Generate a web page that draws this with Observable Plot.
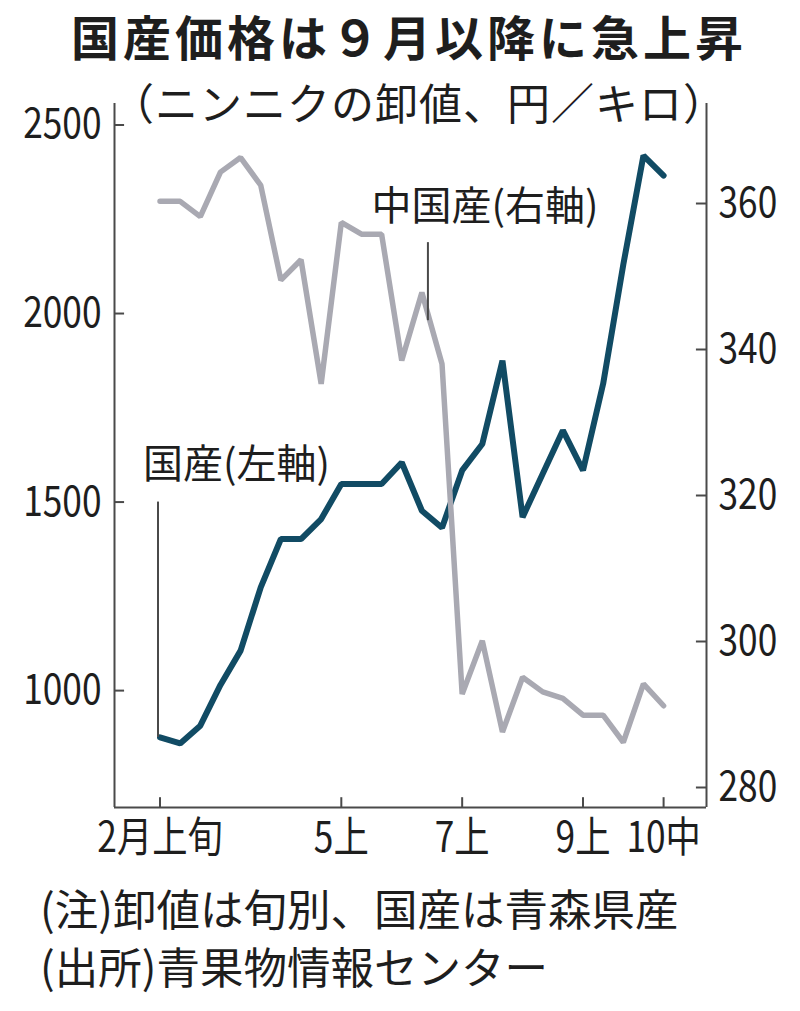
<!DOCTYPE html>
<html><head><meta charset="utf-8">
<script src="https://cdn.jsdelivr.net/npm/d3@7"></script>
<script src="https://cdn.jsdelivr.net/npm/@observablehq/plot@0.6"></script>
<style>
body{margin:0;background:#fff;}
#wrap{position:relative;width:800px;height:1011px;overflow:hidden;font-family:"Noto Sans CJK JP",sans-serif;color:#1e1e1e;}
#title{position:absolute;left:409px;transform:translateX(-50%);top:11px;font-size:48px;letter-spacing:4px;font-weight:700;line-height:48px;white-space:nowrap;}
#subtitle{position:absolute;left:111px;top:80px;font-size:43px;letter-spacing:1px;line-height:43px;white-space:nowrap;}
#chart{position:absolute;left:0;top:90px;}
.note{position:absolute;left:40px;font-size:43.5px;line-height:44px;white-space:nowrap;}
</style></head>
<body><div id="wrap">
<div id="title">国産価格は９月以降に急上昇</div>
<div id="subtitle">（ニンニクの卸値、円／キロ）</div>
<div id="chart"></div>
<div class="note" style="top:886px">(注)卸値は旬別、国産は青森県産</div>
<div class="note" style="top:944px">(出所)青果物情報センター</div>
</div>
<script>
// 旬 (10-day periods), 2月上旬 .. 10月中旬
const periods = ["2月上旬","2月中旬","2月下旬","3月上旬","3月中旬","3月下旬","4月上旬","4月中旬","4月下旬",
  "5月上旬","5月中旬","5月下旬","6月上旬","6月中旬","6月下旬","7月上旬","7月中旬","7月下旬",
  "8月上旬","8月中旬","8月下旬","9月上旬","9月中旬","9月下旬","10月上旬","10月中旬"];
// 国産 (left axis, 円/キロ)
const domestic = [876, 860, 907, 1015, 1106, 1274, 1402, 1402, 1455, 1548, 1548, 1548, 1605,
  1477, 1432, 1584, 1654, 1875, 1460, 1575, 1690, 1584, 1814, 2130, 2419, 2366];
// 中国産 (right axis, 円/キロ)
const china = [360.3, 360.3, 358.2, 364.3, 366.3, 362.5, 349.5, 352.3, 335.3, 357.4, 355.8, 355.8, 338.5,
  347.8, 338.0, 292.8, 300.1, 287.6, 295.1, 293.1, 292.2, 289.9, 289.9, 286.2, 294.2, 291.2];
const xTickIndex = [0, 9, 15, 21, 25];
const xTickLabels = ["2月上旬", "5上", "7上", "9上", "10中"];
const leftTicks = [1000, 1500, 2000, 2500];
const rightTicks = [280, 300, 320, 340, 360];

const xDom = [-2.26, 27.13];
const yDom = [690, 2557];
const rDom = [277.26, 373.7];
const toL = v => yDom[0] + (v - rDom[0]) * (yDom[1] - yDom[0]) / (rDom[1] - rDom[0]);
const fromL = v => rDom[0] + (v - yDom[0]) * (rDom[1] - rDom[0]) / (yDom[1] - yDom[0]);
const rows = periods.map((p, i) => ({i, p, dom: domestic[i], chn: toL(china[i])}));
const font = `"Noto Sans CJK JP",sans-serif`;
const axisColor = "#4a4a4a";
const tx = 0.5; // tick length in x units
const ty = 26;  // tick length in y units

const chart = Plot.plot({
  width: 800, height: 790,
  marginTop: 13, marginBottom: 73, marginLeft: 114, marginRight: 94,
  x: {type: "linear", domain: xDom},
  y: {type: "linear", domain: yDom},
  style: {fontFamily: font, color: "#1e1e1e", background: "transparent", overflow: "visible"},
  marks: [
    Plot.ruleX([xDom[0], xDom[1]], {stroke: axisColor, strokeWidth: 2}),
    Plot.ruleY([yDom[0]], {stroke: axisColor, strokeWidth: 2}),
    Plot.ruleY(leftTicks, {x1: xDom[0], x2: xDom[0] + tx, stroke: axisColor, strokeWidth: 2}),
    Plot.ruleY(rightTicks.map(toL), {x1: xDom[1] - tx, x2: xDom[1], stroke: axisColor, strokeWidth: 2}),
    Plot.ruleX(xTickIndex, {y1: yDom[0], y2: yDom[0] + ty, stroke: axisColor, strokeWidth: 2}),
    Plot.axisY(leftTicks, {anchor: "left", tickSize: 0, tickPadding: 13, fontSize: 42, label: null, tickFormat: d => String(d)}),
    Plot.axisY(rightTicks.map(toL), {anchor: "right", tickSize: 0, tickPadding: 12, fontSize: 42, label: null, tickFormat: d => String(Math.round(fromL(d)))}),
    Plot.axisX(xTickIndex, {anchor: "bottom", tickSize: 0, tickPadding: 15, fontSize: 42, label: null, tickFormat: d => xTickLabels[xTickIndex.indexOf(d)]}),
    Plot.line(rows, {x: "i", y: "dom", stroke: "#114b64", strokeWidth: 6, strokeLinejoin: "miter"}),
    Plot.line(rows, {x: "i", y: "chn", stroke: "#a9a9b2", strokeWidth: 5.5, strokeLinejoin: "miter"}),
    Plot.ruleX([-0.1], {y1: domestic[0], y2: 1500, stroke: axisColor, strokeWidth: 2}),
    Plot.text(["国産(左軸)"], {x: -0.85, y: 1597, text: d => d, textAnchor: "start", fontSize: 40, fill: "#1e1e1e"}),
    Plot.ruleX([13.3], {y1: 1981, y2: 2188, stroke: axisColor, strokeWidth: 2}),
    Plot.text(["中国産(右軸)"], {x: 10.5, y: 2281, text: d => d, textAnchor: "start", fontSize: 40, fill: "#1e1e1e"})
  ]
});
document.getElementById("chart").appendChild(chart);
// condense axis tick labels horizontally, as in the reference typeface
chart.querySelectorAll('g[aria-label$="tick label"] text').forEach(t => {
  const len = t.getComputedTextLength();
  if (len > 0) {
    t.setAttribute("textLength", (len * 0.84).toFixed(1));
    t.setAttribute("lengthAdjust", "spacingAndGlyphs");
  }
});
</script>
</body></html>
